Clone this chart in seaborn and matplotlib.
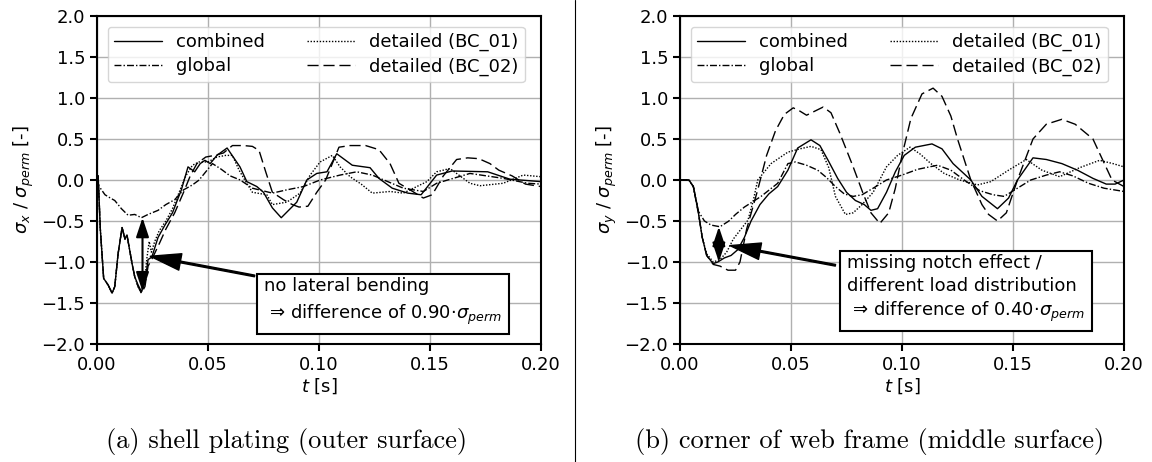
import matplotlib
matplotlib.use("Agg")
import matplotlib.pyplot as plt
from matplotlib.lines import Line2D
import seaborn as sns
import pandas as pd

# ---------------- data (t [s], sigma / sigma_perm) ----------------
SERIES = ["combined", "global", "detailed (BC_01)", "detailed (BC_02)"]

LEFT_COMBINED = [(0.0, 0.0), (0.0005, 0.05), (0.0015, -0.6), (0.003, -1.2), (0.005, -1.28), (0.0068, -1.38),
                 (0.008, -1.3), (0.0095, -0.9), (0.0113, -0.58), (0.0126, -0.72), (0.0135, -0.67), (0.0158, -1.02),
                 (0.017, -1.18), (0.0185, -1.28), (0.020, -1.36), (0.0216, -1.25), (0.023, -0.97), (0.0247, -0.94),
                 (0.0275, -0.7), (0.0306, -0.55), (0.034, -0.4), (0.038, -0.12), (0.041, 0.16), (0.044, 0.1),
                 (0.0465, 0.2), (0.0486, 0.24), (0.051, 0.2), (0.054, 0.3), (0.0586, 0.39), (0.0644, 0.16),
                 (0.0675, -0.02), (0.072, -0.08), (0.075, -0.15), (0.079, -0.34), (0.083, -0.46), (0.090, -0.27),
                 (0.0945, 0.0), (0.099, 0.08), (0.1036, 0.1), (0.108, 0.32), (0.115, 0.18), (0.123, 0.15),
                 (0.127, 0.02), (0.133, -0.1), (0.140, -0.16), (0.146, -0.18), (0.153, 0.06), (0.160, 0.11),
                 (0.176, 0.1), (0.186, 0.01), (0.2, -0.02)]

LEFT_GLOBAL = [(0.0, 0.0), (0.001, -0.08), (0.0036, -0.18), (0.006, -0.22), (0.008, -0.25), (0.011, -0.35),
               (0.014, -0.43), (0.017, -0.42), (0.020, -0.46), (0.023, -0.42), (0.0275, -0.37), (0.031, -0.3),
               (0.035, -0.24), (0.039, -0.12), (0.043, -0.06), (0.046, 0.0), (0.049, 0.1), (0.052, 0.2),
               (0.0555, 0.14), (0.060, 0.05), (0.0645, 0.0), (0.070, -0.1), (0.079, -0.16), (0.0855, -0.12),
               (0.093, -0.08), (0.1005, 0.0), (0.1095, 0.06), (0.117, 0.1), (0.124, 0.06), (0.138, -0.1),
               (0.147, -0.14), (0.153, -0.04), (0.168, 0.08), (0.183, 0.02), (0.194, -0.04), (0.2, -0.05)]

LEFT_BC01 = [(0.0, 0.0), (0.0005, 0.05), (0.0015, -0.6), (0.003, -1.2), (0.005, -1.28), (0.0068, -1.38),
             (0.008, -1.3), (0.0095, -0.9), (0.0113, -0.58), (0.0126, -0.72), (0.0135, -0.67), (0.0158, -1.02),
             (0.017, -1.18), (0.0185, -1.3), (0.020, -1.38), (0.0215, -1.2), (0.0225, -0.95), (0.0235, -0.75),
             (0.0245, -0.88), (0.026, -0.75), (0.028, -0.62), (0.031, -0.5), (0.034, -0.35), (0.037, -0.15),
             (0.040, 0.05), (0.043, 0.18), (0.046, 0.22), (0.050, 0.22), (0.054, 0.28), (0.058, 0.3),
             (0.061, 0.3), (0.064, 0.12), (0.067, -0.02), (0.070, -0.15), (0.0765, -0.18), (0.079, -0.3),
             (0.0855, -0.27), (0.0915, -0.16), (0.096, 0.06), (0.1005, 0.22), (0.106, 0.3), (0.1095, 0.16),
             (0.114, 0.04), (0.119, -0.05), (0.124, -0.16), (0.132, -0.14), (0.138, -0.16), (0.1486, -0.02),
             (0.153, 0.1), (0.159, 0.14), (0.168, -0.04), (0.1725, -0.07), (0.183, -0.04), (0.192, 0.06),
             (0.2, 0.04)]

LEFT_BC02 = [(0.0, 0.0), (0.0005, 0.05), (0.0015, -0.6), (0.003, -1.2), (0.005, -1.28), (0.0068, -1.38),
             (0.008, -1.3), (0.0095, -0.9), (0.0113, -0.58), (0.0126, -0.72), (0.0135, -0.67), (0.0158, -1.02),
             (0.017, -1.18), (0.0185, -1.3), (0.020, -1.38), (0.0216, -1.3), (0.023, -1.05), (0.025, -0.95),
             (0.028, -0.78), (0.031, -0.6), (0.035, -0.4), (0.039, -0.15), (0.042, 0.05), (0.045, 0.2),
             (0.049, 0.28), (0.053, 0.3), (0.057, 0.33), (0.061, 0.42), (0.066, 0.42), (0.070, 0.41),
             (0.073, 0.36), (0.076, 0.1), (0.079, -0.15), (0.084, -0.24), (0.088, -0.3), (0.091, -0.33),
             (0.095, -0.32), (0.099, -0.15), (0.103, 0.0), (0.106, 0.2), (0.109, 0.4), (0.114, 0.42),
             (0.121, 0.42), (0.127, 0.37), (0.132, 0.2), (0.136, -0.04), (0.141, -0.12), (0.147, -0.22),
             (0.151, -0.18), (0.156, 0.05), (0.162, 0.25), (0.167, 0.27), (0.172, 0.26), (0.177, 0.2),
             (0.181, 0.12), (0.187, 0.05), (0.193, -0.05), (0.2, -0.08)]

RIGHT_COMBINED = [(0.0, 0.0), (0.004, 0.0), (0.006, -0.08), (0.008, -0.35), (0.010, -0.7), (0.012, -0.92),
                  (0.0149, -1.02), (0.017, -1.0), (0.020, -0.95), (0.023, -0.92), (0.026, -0.85), (0.029, -0.7),
                  (0.032, -0.5), (0.036, -0.3), (0.040, -0.17), (0.044, -0.08), (0.0486, 0.12), (0.053, 0.39),
                  (0.059, 0.49), (0.063, 0.42), (0.0667, 0.24), (0.071, 0.02), (0.075, -0.15), (0.079, -0.25),
                  (0.083, -0.3), (0.086, -0.37), (0.089, -0.35), (0.093, -0.15), (0.097, 0.1), (0.101, 0.3),
                  (0.106, 0.4), (0.1135, 0.44), (0.118, 0.38), (0.123, 0.2), (0.131, 0.0), (0.136, -0.2),
                  (0.143, -0.35), (0.148, -0.22), (0.152, 0.0), (0.159, 0.27), (0.165, 0.25), (0.172, 0.2),
                  (0.179, 0.12), (0.186, 0.02), (0.192, -0.05), (0.196, -0.05), (0.2, 0.0)]

RIGHT_GLOBAL = [(0.0, 0.0), (0.004, 0.0), (0.006, -0.08), (0.008, -0.37), (0.011, -0.5), (0.014, -0.55),
                (0.018, -0.57), (0.022, -0.5), (0.025, -0.42), (0.029, -0.33), (0.0365, -0.2), (0.044, -0.04),
                (0.0486, 0.2), (0.052, 0.22), (0.057, 0.18), (0.062, 0.12), (0.066, 0.03), (0.070, -0.08),
                (0.074, -0.17), (0.078, -0.2), (0.082, -0.18), (0.087, -0.1), (0.093, 0.0), (0.1, 0.06),
                (0.107, 0.13), (0.116, 0.18), (0.122, 0.12), (0.128, 0.0), (0.135, -0.13), (0.141, -0.18),
                (0.146, -0.2), (0.152, -0.1), (0.158, 0.0), (0.165, 0.06), (0.171, 0.1), (0.177, 0.05),
                (0.184, -0.04), (0.191, -0.1), (0.2, -0.14)]

RIGHT_BC01 = [(0.0, 0.0), (0.004, 0.0), (0.006, -0.08), (0.008, -0.35), (0.010, -0.7), (0.012, -0.9),
              (0.015, -1.0), (0.018, -0.97), (0.021, -0.88), (0.024, -0.72), (0.026, -0.65), (0.0306, -0.49),
              (0.033, -0.25), (0.035, 0.0), (0.041, 0.2), (0.0486, 0.34), (0.054, 0.38), (0.059, 0.41),
              (0.0635, 0.37), (0.067, 0.15), (0.070, -0.2), (0.0745, -0.42), (0.078, -0.4), (0.082, -0.3),
              (0.087, -0.15), (0.093, 0.16), (0.098, 0.3), (0.1036, 0.4), (0.108, 0.32), (0.113, 0.2),
              (0.119, 0.08), (0.126, 0.0), (0.134, -0.06), (0.140, -0.02), (0.148, 0.12), (0.156, 0.25),
              (0.163, 0.12), (0.171, 0.04), (0.180, 0.15), (0.189, 0.24), (0.195, 0.2), (0.2, 0.16)]

RIGHT_BC02 = [(0.0, 0.0), (0.004, 0.0), (0.006, -0.08), (0.008, -0.35), (0.010, -0.7), (0.012, -0.92),
              (0.015, -1.03), (0.018, -1.05), (0.0216, -1.1), (0.025, -1.1), (0.027, -1.0), (0.030, -0.6),
              (0.035, -0.12), (0.039, 0.3), (0.043, 0.6), (0.047, 0.8), (0.051, 0.88), (0.054, 0.84),
              (0.057, 0.79), (0.0645, 0.89), (0.068, 0.82), (0.072, 0.57), (0.078, 0.16), (0.0824, -0.16),
              (0.086, -0.4), (0.090, -0.53), (0.094, -0.4), (0.097, -0.1), (0.1, 0.3), (0.104, 0.75),
              (0.109, 1.05), (0.114, 1.12), (0.118, 1.02), (0.122, 0.78), (0.125, 0.5), (0.131, 0.0),
              (0.136, -0.3), (0.139, -0.42), (0.143, -0.5), (0.147, -0.4), (0.152, 0.0), (0.159, 0.5),
              (0.165, 0.68), (0.172, 0.74), (0.178, 0.68), (0.186, 0.5), (0.1946, 0.0), (0.2, -0.08)]

YLABELS = [r"$\sigma_x$ / $\sigma_{perm}$ [-]", r"$\sigma_y$ / $\sigma_{perm}$ [-]"]
XLABEL = r"$t$ [s]"
CAPTIONS = ["(a) shell plating (outer surface)", "(b) corner of web frame (middle surface)"]
NOTES = ["no lateral bending\n" + r" ⇒ difference of 0.90$\cdot\sigma_{perm}$",
         "missing notch effect /\ndifferent load distribution\n" + r" ⇒ difference of 0.40$\cdot\sigma_{perm}$"]


def to_frame(curves):
    rows = []
    for name, pts in zip(SERIES, curves):
        for t, v in pts:
            rows.append({"t": t, "v": v, "series": name})
    return pd.DataFrame(rows)


left_df = to_frame([LEFT_COMBINED, LEFT_GLOBAL, LEFT_BC01, LEFT_BC02])
right_df = to_frame([RIGHT_COMBINED, RIGHT_GLOBAL, RIGHT_BC01, RIGHT_BC02])

# ---------------- style ----------------
FS = 13
sns.set_style("ticks")
plt.rcParams.update({
    "font.family": ["DejaVu Sans"],
    "font.size": FS,
    "text.color": "black",
    "axes.labelcolor": "black",
    "axes.linewidth": 1.5,
    "xtick.major.width": 1.5,
    "ytick.major.width": 1.5,
    "xtick.major.size": 5,
    "ytick.major.size": 5,
    "xtick.color": "black",
    "ytick.color": "black",
    "axes.edgecolor": "black",
    "xtick.labelsize": FS,
    "ytick.labelsize": FS,
    "axes.labelsize": FS,
    "legend.fontsize": FS,
})

DASHES = {"combined": "", "global": (5, 1.5, 1, 1.5),
          "detailed (BC_01)": (1, 1.2), "detailed (BC_02)": (8, 3.5)}

fig = plt.figure(figsize=(11.52, 4.62), dpi=100)
ax1 = fig.add_axes([0.0842, 0.2554, 0.3854, 0.710])
ax2 = fig.add_axes([0.5903, 0.2554, 0.3854, 0.710])

for ax, df, ylab in [(ax1, left_df, YLABELS[0]), (ax2, right_df, YLABELS[1])]:
    sns.lineplot(data=df, x="t", y="v", style="series", style_order=SERIES, dashes=DASHES,
                 color="black", lw=1.0, estimator=None, sort=False, ax=ax)
    ax.set_xlim(0, 0.2)
    ax.set_ylim(-2.0, 2.0)
    ax.set_xticks([0.0, 0.05, 0.10, 0.15, 0.20])
    ax.set_yticks([-2.0, -1.5, -1.0, -0.5, 0.0, 0.5, 1.0, 1.5, 2.0])
    ax.grid(True, color="#b0b0b0", lw=1.0)
    ax.set_axisbelow(True)
    ax.set_xlabel(XLABEL, labelpad=2)
    ax.set_ylabel(ylab, labelpad=4)
    handles, labels = ax.get_legend_handles_labels()
    ax.legend(handles, labels, loc="upper left", ncol=2, handlelength=2.65, columnspacing=2.3,
              framealpha=0.8, borderaxespad=0.6, labelspacing=0.35, borderpad=0.35)

# left annotations
ax1.annotate("", xy=(0.0205, -0.46), xytext=(0.0205, -1.36),
             arrowprops=dict(arrowstyle="<|-|>,head_length=0.9,head_width=0.3", color="black", lw=1.5,
                             shrinkA=0, shrinkB=0), zorder=6)
ax1.annotate("", xy=(0.024, -0.93), xytext=(0.071, -1.17),
             arrowprops=dict(facecolor="black", edgecolor="black", width=1.2, headwidth=12, headlength=22,
                             shrink=0), zorder=6)
ax1.text(0.0752, -1.49, NOTES[0], ha="left", va="center", fontsize=FS, zorder=7, linespacing=1.45,
         bbox=dict(boxstyle="square,pad=0.4", fc="white", ec="black", lw=1.5))

# right annotations
ax2.annotate("", xy=(0.0175, -0.57), xytext=(0.0175, -1.0),
             arrowprops=dict(arrowstyle="<|-|>,head_length=0.9,head_width=0.3", color="black", lw=1.5,
                             shrinkA=0, shrinkB=0), zorder=6)
ax2.annotate("", xy=(0.0225, -0.8), xytext=(0.070, -1.04),
             arrowprops=dict(facecolor="black", edgecolor="black", width=1.2, headwidth=12, headlength=22,
                             shrink=0), zorder=6)
ax2.text(0.0752, -1.33, NOTES[1], ha="left", va="center", fontsize=FS, zorder=7, linespacing=1.3,
         bbox=dict(boxstyle="square,pad=0.4", fc="white", ec="black", lw=1.5))

# captions and separator
fig.text(0.249, 0.045, CAPTIONS[0], ha="center", va="center", fontsize=19, family="cmr10")
fig.text(0.755, 0.045, CAPTIONS[1], ha="center", va="center", fontsize=19, family="cmr10")
fig.add_artist(Line2D([0.4991, 0.4991], [0.0, 1.0], transform=fig.transFigure, color="black", lw=0.8))

fig.savefig("out.png", dpi=100)
